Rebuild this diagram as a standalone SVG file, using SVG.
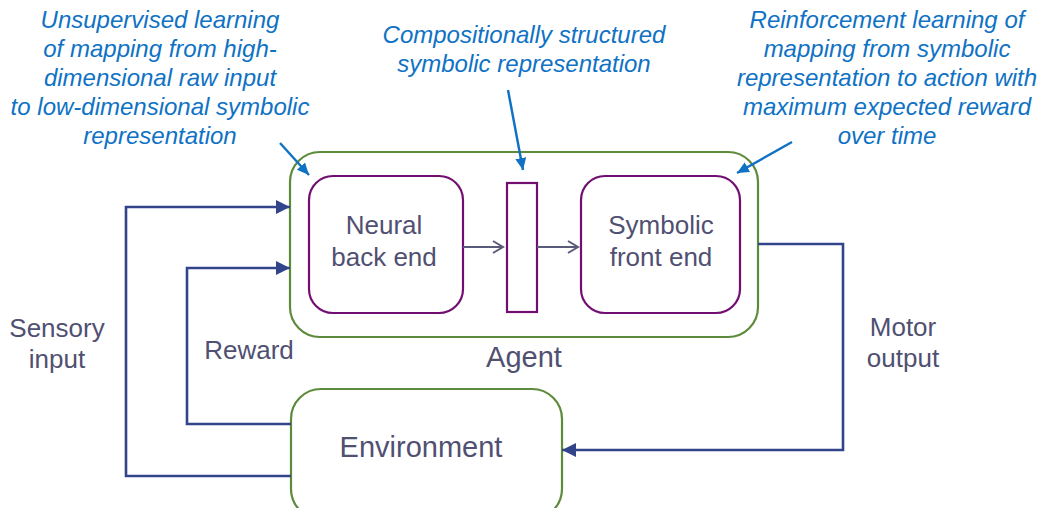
<svg xmlns="http://www.w3.org/2000/svg" width="1039" height="508" viewBox="0 0 1039 508">
<style>
.note{font-family:"Liberation Sans",Arial,sans-serif;font-style:italic;font-size:24px;fill:#0F72C4;text-anchor:middle}
.lbl{font-family:"Liberation Sans",Arial,sans-serif;font-size:26px;fill:#505072;text-anchor:middle}
.big{font-family:"Liberation Sans",Arial,sans-serif;font-size:29px;fill:#505072;text-anchor:middle}
.agent{fill:#fff;stroke:#5E8B3B;stroke-width:2.2}
.inner{fill:#fff;stroke:#720E72;stroke-width:2.2}
.conn{fill:none;stroke:#33458A;stroke-width:2.6}
.small{fill:none;stroke:#5A5A7A;stroke-width:2}
.blue{fill:none;stroke:#0F72C4;stroke-width:2.4}
</style>
<defs>
<marker id="tri" markerUnits="userSpaceOnUse" markerWidth="16" markerHeight="16" refX="14" refY="8" orient="auto"><path d="M0,1 L14,8 L0,15 Z" fill="#33458A"/></marker>
<marker id="chev" markerUnits="userSpaceOnUse" markerWidth="14" markerHeight="14" refX="11" refY="7" orient="auto"><path d="M1,1 L11,7 L1,13" fill="none" stroke="#5A5A7A" stroke-width="2"/></marker>
<marker id="btri" markerUnits="userSpaceOnUse" markerWidth="14" markerHeight="14" refX="12" refY="7" orient="auto"><path d="M0,1.5 L12,7 L0,12.5 Z" fill="#0F72C4"/></marker>
</defs>
<g id="notes">
<text class="note" x="160" y="28">Unsupervised learning</text>
<text class="note" x="160" y="57">of mapping from high-</text>
<text class="note" x="160" y="86">dimensional raw input</text>
<text class="note" x="160" y="115">to low-dimensional symbolic</text>
<text class="note" x="160" y="144">representation</text>
<text class="note" x="524" y="43">Compositionally structured</text>
<text class="note" x="524" y="72">symbolic representation</text>
<text class="note" x="887" y="28">Reinforcement learning of</text>
<text class="note" x="887" y="57">mapping from symbolic</text>
<text class="note" x="887" y="86">representation to action with</text>
<text class="note" x="887" y="115">maximum expected reward</text>
<text class="note" x="887" y="144">over time</text>
</g>
<g id="agent">
<rect class="agent" x="290" y="152" width="468" height="185" rx="30"/>
<text class="big" x="524" y="367">Agent</text>
</g>
<g id="neural">
<rect class="inner" x="309" y="176" width="154" height="137" rx="24"/>
<text class="lbl" x="384" y="234">Neural</text>
<text class="lbl" x="384" y="266">back end</text>
</g>
<g id="symrep">
<rect class="inner" x="507" y="183" width="30" height="129"/>
</g>
<g id="symbolic">
<rect class="inner" x="581" y="176" width="159" height="137" rx="24"/>
<text class="lbl" x="661" y="234">Symbolic</text>
<text class="lbl" x="661" y="266">front end</text>
</g>
<g id="environment">
<rect class="agent" x="291" y="389" width="271" height="130" rx="30"/>
<text class="big" x="421" y="457">Environment</text>
</g>
<g id="connectors">
<path class="conn" d="M291,476 H126 V207 H290" marker-end="url(#tri)"/>
<path class="conn" d="M291,424 H187 V268 H290" marker-end="url(#tri)"/>
<path class="conn" d="M758,244 H843 V450 H562" marker-end="url(#tri)"/>
<path class="small" d="M463,247 H503" marker-end="url(#chev)"/>
<path class="small" d="M537,247 H578" marker-end="url(#chev)"/>
<path class="blue" d="M280,143 L309,175" marker-end="url(#btri)"/>
<path class="blue" d="M508,90 L523,170" marker-end="url(#btri)"/>
<path class="blue" d="M792,142 L737,173" marker-end="url(#btri)"/>
</g>
<g id="labels">
<text class="lbl" x="57" y="337">Sensory</text>
<text class="lbl" x="57" y="368">input</text>
<text class="lbl" x="249" y="359">Reward</text>
<text class="lbl" x="903" y="336">Motor</text>
<text class="lbl" x="903" y="367">output</text>
</g>
</svg>
